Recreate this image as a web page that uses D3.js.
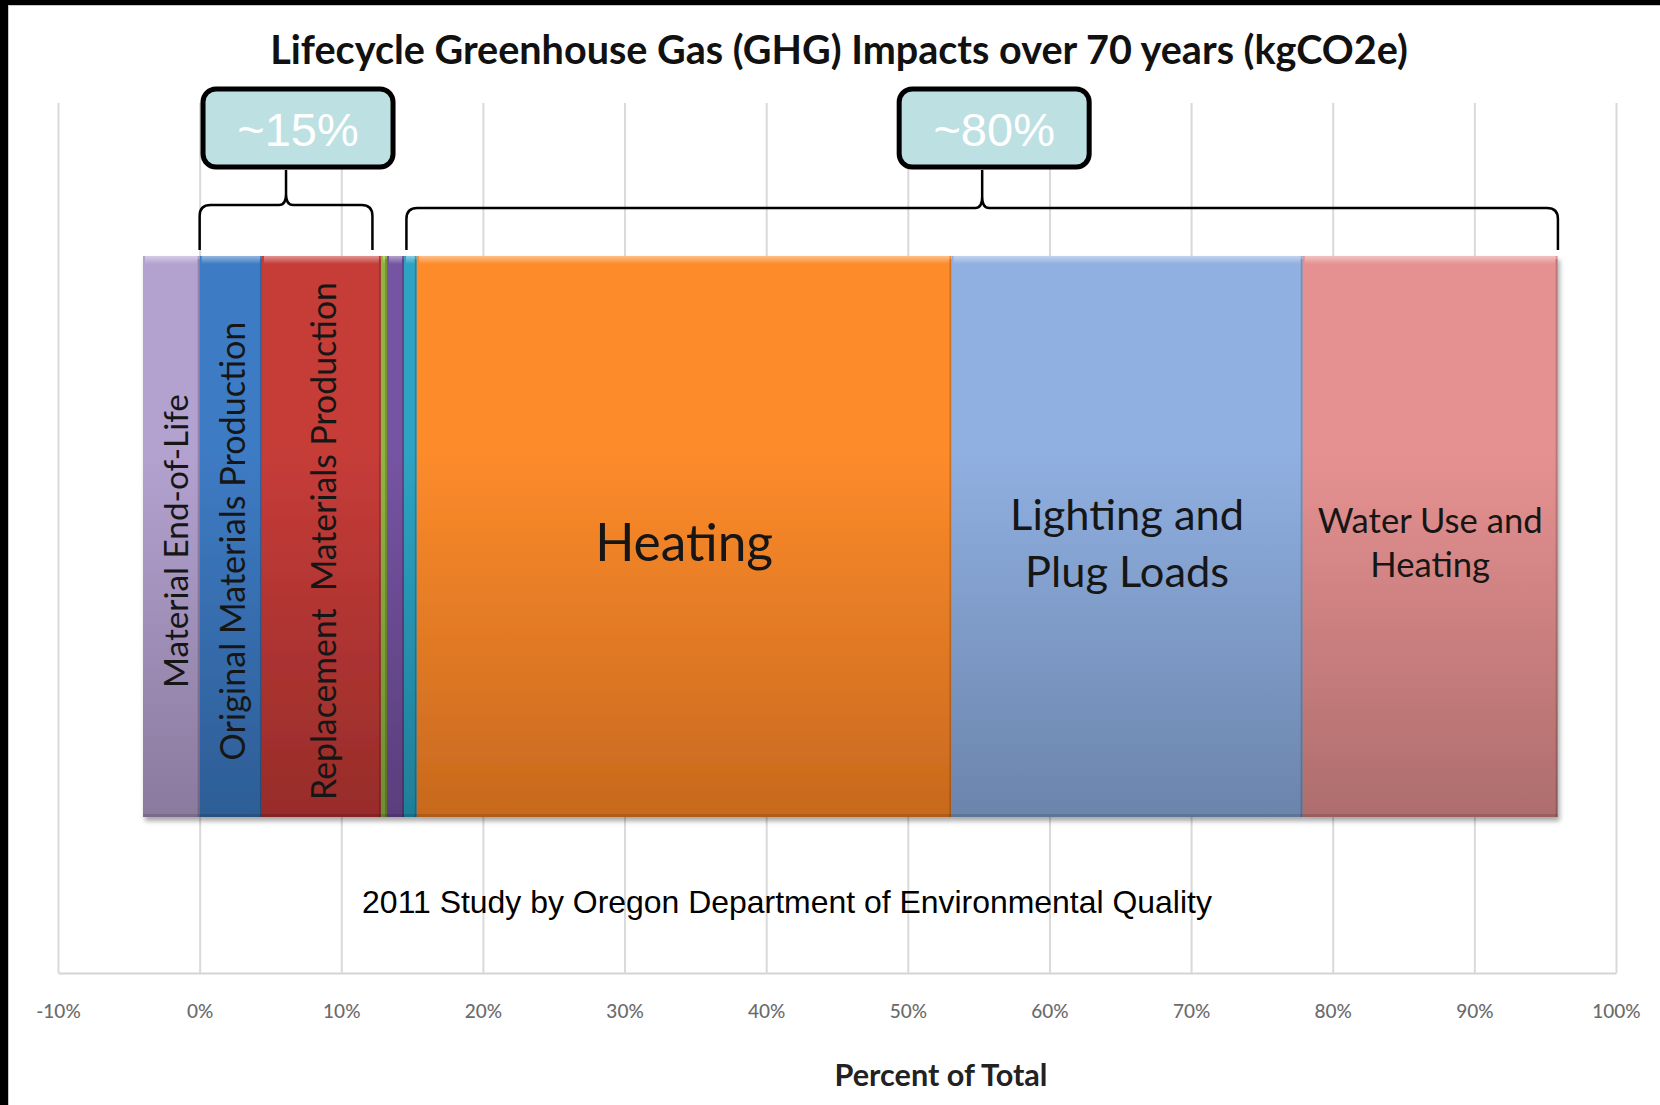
<!DOCTYPE html>
<html>
<head>
<meta charset="utf-8">
<script src="https://cdn.jsdelivr.net/npm/d3@7"></script>
<style>
  html, body { margin: 0; padding: 0; background: #fff; }
  svg { display: block; }
</style>
</head>
<body>
<svg id="chart" width="1660" height="1105"></svg>
<script>
// data (percent of total)
let categories = [
  'Material End-of-Life',
  'Original Materials Production',
  'Replacement Materials Production',
  'Construction',
  'Transportation',
  'Maintenance',
  'Heating',
  'Lighting and Plug Loads',
  'Water Use and Heating'
];
let values = [-4.0, 4.4, 8.4, 0.43, 1.2, 0.9, 37.75, 24.8, 18.0];
let tickValues = [-10, 0, 10, 20, 30, 40, 50, 60, 70, 80, 90, 100];
let bracketLabels = ['~15%', '~80%'];
let bracketStart = [0, 14.6];
let bracketEnd = [12.2, 95.9];

let title = 'Lifecycle Greenhouse Gas (GHG) Impacts over 70 years (kgCO2e)';
let note = '2011 Study by Oregon Department of Environmental Quality';
let axisTitle = 'Percent of Total';

// look of each segment
let topColors = ['#b3a2d0', '#3e7bc4', '#c63c39', '#8fb541', '#7554a2', '#2ea3c3', '#fd8b2b', '#90b0e1', '#e69191'];
let bottomColors = ['#8a7a9e', '#2d5d95', '#972c2a', '#6e8d31', '#5a3e7d', '#1f7e98', '#c7691e', '#6b84ac', '#ae6d6d'];

// label layout: lines, rotated or not, width to fit the first line to
let labelLayout = {
  0: { lines: ['Material End-of-Life'], rotate: true, fitW: 294, dx: 4 },
  1: { lines: ['Original Materials Production'], rotate: true, fitW: 439, dx: 1 },
  2: { lines: ['Replacement  Materials Production'], rotate: true, fitW: 518, dx: 2 },
  6: { lines: ['Heating'], rotate: false, fitW: 178, gap: 0 },
  7: { lines: ['Lighting and', 'Plug Loads'], rotate: false, fitW: 234, gap: 57 },
  8: { lines: ['Water Use and', 'Heating'], rotate: false, fitW: 225, gap: 44 }
};

let font = 'Lato, Calibri, "Open Sans", sans-serif';
let arial = '"Liberation Sans", Arial, sans-serif';

let svg = d3.select('#chart');
let W = 1660;
let H = 1105;
let gridTop = 103;
let axisY = 973;
let barTop = 256;
let barBottom = 817;
let barMid = 541;

let x = d3.scaleLinear().domain([-10, 100]).range([58, 1616]);

function fit(sel, target) {
  let w = sel.node().getComputedTextLength();
  let fs = parseFloat(sel.attr('font-size'));
  let size = fs * target / w;
  sel.attr('font-size', size);
  return size;
}

svg.append('rect').attr('width', W).attr('height', H).attr('fill', '#fff');

// frame on the left and top
svg.append('rect').attr('x', 0).attr('y', 0).attr('width', 8).attr('height', H).attr('fill', '#000');
svg.append('rect').attr('x', 0).attr('y', 0).attr('width', W).attr('height', 5).attr('fill', '#000');
svg.append('line').attr('x1', 8.5).attr('x2', 8.5).attr('y1', 5).attr('y2', H)
  .attr('stroke', '#c8c8c8').attr('stroke-width', 1);
svg.append('line').attr('x1', 8).attr('x2', W).attr('y1', 5.5).attr('y2', 5.5)
  .attr('stroke', '#c8c8c8').attr('stroke-width', 1);

// axis with gridlines
let axis = d3.axisBottom(x)
  .tickValues(tickValues)
  .tickFormat(d => d + '%')
  .tickSize(-(axisY - gridTop))
  .tickSizeOuter(0);

let gAxis = svg.append('g')
  .attr('transform', 'translate(0,' + axisY + ')')
  .call(axis);

gAxis.select('.domain').attr('stroke', '#d4d4d4').attr('stroke-width', 2);
gAxis.selectAll('.tick line').attr('stroke', '#d9d9d9').attr('stroke-width', 2);
gAxis.selectAll('.tick text')
  .attr('y', 45)
  .attr('dy', 0)
  .attr('fill', '#6b6b6b')
  .attr('font-family', font)
  .attr('font-size', 19)
  .attr('font-weight', 500);

// stacked segments
let pos = 0;
let segs = values.map((v, i) => {
  let s;
  if (v < 0) {
    s = { x0: v, x1: 0 };
  } else {
    s = { x0: pos, x1: pos + v };
    pos += v;
  }
  s.i = i;
  s.name = categories[i];
  return s;
});

let defs = svg.append('defs');

let shadow = defs.append('filter').attr('id', 'shadow')
  .attr('x', '-5%').attr('y', '-5%').attr('width', '110%').attr('height', '115%');
shadow.append('feDropShadow')
  .attr('dx', 2).attr('dy', 4).attr('stdDeviation', 2.5)
  .attr('flood-color', '#000').attr('flood-opacity', 0.35);

segs.forEach(s => {
  let g = defs.append('linearGradient')
    .attr('id', 'grad' + s.i)
    .attr('x1', 0).attr('y1', 0).attr('x2', 0).attr('y2', 1);
  g.append('stop').attr('offset', '0%').attr('stop-color', topColors[s.i]);
  g.append('stop').attr('offset', '35%').attr('stop-color', topColors[s.i]);
  g.append('stop').attr('offset', '100%').attr('stop-color', bottomColors[s.i]);
});

let hi = defs.append('linearGradient').attr('id', 'hilite')
  .attr('x1', 0).attr('y1', 0).attr('x2', 0).attr('y2', 1);
hi.append('stop').attr('offset', '0%').attr('stop-color', '#fff').attr('stop-opacity', 0.45);
hi.append('stop').attr('offset', '100%').attr('stop-color', '#fff').attr('stop-opacity', 0);

let bar = svg.append('g').attr('filter', 'url(#shadow)');

bar.selectAll('rect.seg')
  .data(segs)
  .enter()
  .append('rect')
  .attr('class', 'seg')
  .attr('x', d => x(d.x0))
  .attr('y', barTop)
  .attr('width', d => x(d.x1) - x(d.x0))
  .attr('height', barBottom - barTop)
  .attr('fill', d => 'url(#grad' + d.i + ')');

// bevel: light top, dark right and bottom edges
let bevel = svg.append('g');
bevel.selectAll('rect.top')
  .data(segs)
  .enter()
  .append('rect')
  .attr('x', d => x(d.x0) + 2)
  .attr('y', barTop)
  .attr('width', d => Math.max(0, x(d.x1) - x(d.x0) - 4))
  .attr('height', 8)
  .attr('fill', 'url(#hilite)');
bevel.selectAll('rect.right')
  .data(segs)
  .enter()
  .append('rect')
  .attr('x', d => x(d.x1) - 2)
  .attr('y', barTop + 3)
  .attr('width', 2)
  .attr('height', barBottom - barTop - 3)
  .attr('fill', '#000')
  .attr('opacity', 0.18);
bevel.selectAll('rect.bottom')
  .data(segs)
  .enter()
  .append('rect')
  .attr('x', d => x(d.x0))
  .attr('y', barBottom - 3)
  .attr('width', d => x(d.x1) - x(d.x0))
  .attr('height', 3)
  .attr('fill', '#000')
  .attr('opacity', 0.12);

// segment labels
let labels = svg.append('g').attr('fill', '#161616').attr('font-family', font);

segs.forEach(s => {
  let lay = labelLayout[s.i];
  if (!lay) return;
  let cx = (x(s.x0) + x(s.x1)) / 2;
  if (lay.rotate) {
    let t = labels.append('text')
      .attr('transform', 'translate(' + (cx + lay.dx) + ',' + barMid + ') rotate(-90)')
      .attr('text-anchor', 'middle')
      .attr('dominant-baseline', 'central')
      .attr('font-size', 30)
      .attr('xml:space', 'preserve')
      .text(lay.lines[0]);
    fit(t, lay.fitW);
  } else {
    let first = labels.append('text')
      .attr('x', cx)
      .attr('text-anchor', 'middle')
      .attr('dominant-baseline', 'central')
      .attr('font-size', 30)
      .text(lay.lines[0]);
    let size = fit(first, lay.fitW);
    let y0 = barMid - lay.gap * (lay.lines.length - 1) / 2;
    first.attr('y', y0);
    lay.lines.slice(1).forEach((line, k) => {
      labels.append('text')
        .attr('x', cx)
        .attr('y', y0 + lay.gap * (k + 1))
        .attr('text-anchor', 'middle')
        .attr('dominant-baseline', 'central')
        .attr('font-size', size)
        .text(line);
    });
  }
});

// braces with their call-out boxes
let legY = 250;
let braceY = [205, 208];
let cuspTop = 170;
let r = 11;

bracketLabels.forEach((lab, i) => {
  let x0 = x(bracketStart[i]);
  let x1 = x(bracketEnd[i]);
  let xm = (x0 + x1) / 2;
  let yb = braceY[i];
  let p = d3.path();
  p.moveTo(x0, legY);
  p.lineTo(x0, yb + r);
  p.quadraticCurveTo(x0, yb, x0 + r, yb);
  p.lineTo(xm - 7, yb);
  p.quadraticCurveTo(xm, yb, xm, yb - r);
  p.lineTo(xm, cuspTop);
  p.moveTo(xm, yb - r);
  p.quadraticCurveTo(xm, yb, xm + 7, yb);
  p.lineTo(x1 - r, yb);
  p.quadraticCurveTo(x1, yb, x1, yb + r);
  p.lineTo(x1, legY);
  svg.append('path')
    .attr('d', p.toString())
    .attr('fill', 'none')
    .attr('stroke', '#000')
    .attr('stroke-width', 2.5);

  let bw = 190;
  let bh = 78;
  let bx = xm + 12 - bw / 2;
  svg.append('rect')
    .attr('x', bx)
    .attr('y', 89)
    .attr('width', bw)
    .attr('height', bh)
    .attr('rx', 13)
    .attr('fill', '#bde0e3')
    .attr('stroke', '#000')
    .attr('stroke-width', 5);
  svg.append('text')
    .attr('x', bx + bw / 2)
    .attr('y', 146)
    .attr('text-anchor', 'middle')
    .attr('font-family', arial)
    .attr('font-size', 47)
    .attr('fill', '#fff')
    .text(lab);
});

// titles
let t1 = svg.append('text')
  .attr('x', 839)
  .attr('y', 64)
  .attr('text-anchor', 'middle')
  .attr('font-family', font)
  .attr('font-weight', 'bold')
  .attr('font-size', 36)
  .attr('fill', '#111')
  .text(title);
fit(t1, 1138);

let t2 = svg.append('text')
  .attr('x', 787)
  .attr('y', 913)
  .attr('text-anchor', 'middle')
  .attr('font-family', arial)
  .attr('font-size', 29)
  .attr('fill', '#000')
  .text(note);
fit(t2, 850);

let t3 = svg.append('text')
  .attr('x', 941)
  .attr('y', 1086)
  .attr('text-anchor', 'middle')
  .attr('font-family', font)
  .attr('font-weight', 'bold')
  .attr('font-size', 26)
  .attr('fill', '#222')
  .text(axisTitle);
fit(t3, 213);
</script>
</body>
</html>
